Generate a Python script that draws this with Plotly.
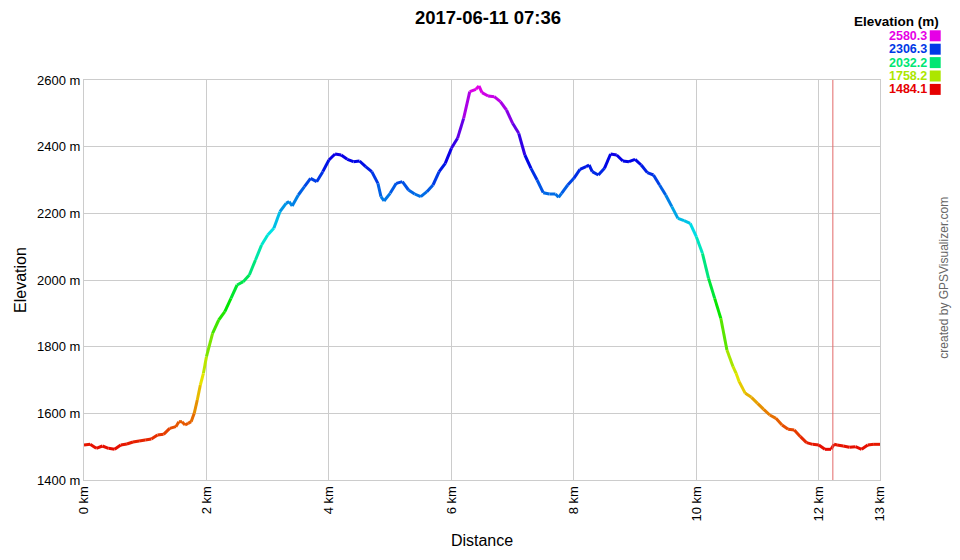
"""GPS track elevation profile, coloured by elevation."""
import plotly.graph_objects as go
from plotly.colors import sample_colorscale

# ── Data read from the profile ───────────────────────────────────────────────
distance_km = [
    0.0, 0.1, 0.2, 0.3, 0.4, 0.5, 0.6, 0.7, 0.8, 0.9,
    1.0, 1.1, 1.2, 1.3, 1.4, 1.5, 1.55, 1.6, 1.65, 1.7, 1.75, 1.8, 1.85, 1.9, 1.95,
    2.0, 2.1, 2.2, 2.3, 2.4, 2.5, 2.6, 2.7, 2.8, 2.9,
    3.0, 3.1, 3.2, 3.3, 3.35, 3.4, 3.5, 3.6, 3.7, 3.8, 3.9,
    4.0, 4.1, 4.2, 4.3, 4.4, 4.5, 4.6, 4.7, 4.8, 4.85, 4.9,
    5.0, 5.1, 5.2, 5.3, 5.4, 5.5, 5.6, 5.7, 5.8, 5.9,
    6.0, 6.1, 6.2, 6.3, 6.4, 6.45, 6.5, 6.6, 6.7, 6.8, 6.9,
    7.0, 7.1, 7.2, 7.3, 7.4, 7.5, 7.6, 7.7, 7.75, 7.8, 7.9,
    8.0, 8.1, 8.2, 8.25, 8.3, 8.4, 8.5, 8.6, 8.7, 8.8, 8.9,
    9.0, 9.1, 9.2, 9.3, 9.4, 9.5, 9.6, 9.7, 9.8, 9.9,
    10.0, 10.1, 10.2, 10.3, 10.4, 10.5, 10.6, 10.65, 10.7, 10.8, 10.9,
    11.0, 11.1, 11.2, 11.3, 11.4, 11.5, 11.6, 11.7, 11.8, 11.9,
    12.0, 12.1, 12.2, 12.25, 12.3, 12.4, 12.5, 12.6, 12.7, 12.8, 12.9, 13.0,
]
elevation_m = [
    1505, 1507, 1495, 1502, 1495, 1492, 1505, 1508, 1514, 1517,
    1520, 1523, 1535, 1537, 1555, 1560, 1575, 1575, 1565, 1570, 1575, 1600, 1640, 1685, 1720,
    1770, 1840, 1880, 1905, 1945, 1985, 1995, 2015, 2060, 2105,
    2135, 2155, 2205, 2230, 2235, 2222, 2255, 2280, 2305, 2295, 2325,
    2360, 2378, 2375, 2362, 2355, 2357, 2340, 2325, 2290, 2250, 2237,
    2260, 2290, 2295, 2270, 2258, 2250, 2265, 2285, 2325, 2350,
    2395, 2425, 2485, 2565, 2572, 2582, 2562, 2552, 2550, 2535, 2510,
    2470, 2440, 2375, 2335, 2300, 2262, 2258, 2258, 2248, 2260, 2285,
    2305, 2332, 2340, 2345, 2325, 2315, 2335, 2378, 2375, 2357, 2355,
    2362, 2345, 2322, 2315, 2285, 2255, 2220, 2185, 2178, 2170,
    2130, 2080, 2005, 1945, 1885, 1790, 1740, 1720, 1695, 1660, 1648,
    1630, 1612, 1595, 1585, 1565, 1552, 1550, 1530, 1512, 1507,
    1505, 1492, 1492, 1507, 1505, 1502, 1498, 1500, 1492, 1505, 1507, 1507,
]

legend_values = [2580.3, 2306.3, 2032.2, 1758.2, 1484.1]
x_tickvals = [0, 2, 4, 6, 8, 10, 12, 13]
y_tickvals = [1400, 1600, 1800, 2000, 2200, 2400, 2600]
marker_km = 12.23

# hue wheel red -> yellow -> green -> cyan -> blue -> magenta
COLORSCALE = [
    [0.0, "rgb(230,0,0)"], [0.2, "rgb(230,230,0)"], [0.4, "rgb(0,230,0)"],
    [0.6, "rgb(0,230,230)"], [0.8, "rgb(0,0,230)"], [1.0, "rgb(230,0,230)"],
]
E_MIN, E_MAX = min(legend_values), max(legend_values)
FONT = "Arial, Liberation Sans, sans-serif"


def elev_color(e):
    t = min(max((e - E_MIN) / (E_MAX - E_MIN), 0), 1)
    return sample_colorscale(COLORSCALE, [t])[0]


def px_to_paper(px, py):
    # plot area spans x 80..880, y 80..480 on the page
    return (px - 80) / 800, (480 - py) / 400


fig = go.Figure()

# vertical marker
fig.add_shape(type="line", x0=marker_km, x1=marker_km, y0=1400, y1=2600,
              xref="x", yref="y", line=dict(color="#e26868", width=1))

# elevation line, one segment per pair of points so each gets its own colour
for i in range(len(distance_km) - 1):
    mid = (elevation_m[i] + elevation_m[i + 1]) / 2
    fig.add_trace(go.Scatter(
        x=distance_km[i:i + 2], y=elevation_m[i:i + 2], mode="lines",
        line=dict(color=elev_color(mid), width=3),
        showlegend=False, hoverinfo="skip",
    ))

# ── Legend block (top right) ─────────────────────────────────────────────────
lx, ly = px_to_paper(941, 21)
fig.add_annotation(x=lx, y=ly, xref="paper", yref="paper", xanchor="right",
                   yanchor="middle", showarrow=False, text="<b>Elevation (m)</b>",
                   font=dict(family=FONT, size=13.5, color="black"))
for k, val in enumerate(legend_values):
    cy = 35.8 + k * 13.4
    c = elev_color(val)
    tx, ty = px_to_paper(928, cy)
    fig.add_annotation(x=tx, y=ty, xref="paper", yref="paper", xanchor="right",
                       yanchor="middle", showarrow=False, text=f"<b>{val:.1f}</b>",
                       font=dict(family=FONT, size=12.5, color=c), borderpad=0)
    x0, y0 = px_to_paper(930, cy + 5.5)
    x1, y1 = px_to_paper(941, cy - 5.5)
    fig.add_shape(type="rect", xref="paper", yref="paper", x0=x0, x1=x1,
                  y0=y0, y1=y1, fillcolor=c, line=dict(width=0))

cx, cy2 = px_to_paper(953, 278)
fig.add_annotation(x=cx, y=cy2, xref="paper", yref="paper", textangle=-90,
                   showarrow=False, text="created by GPSVisualizer.com",
                   font=dict(family=FONT, size=12, color="#666666"))

# the page body adds an 8px offset, so margins are shifted to keep the plot at 80..880
fig.update_layout(
    width=960, height=560,
    margin=dict(l=72, r=88, t=72, b=88),
    paper_bgcolor="white", plot_bgcolor="white",
    font=dict(family=FONT, size=13, color="black"),
    title=dict(text="<b>2017-06-11 07:36</b>", x=0.5, xanchor="center",
               y=1 - 10 / 560, yanchor="middle", font=dict(size=18.5)),
    xaxis=dict(
        range=[0, 13], tickvals=x_tickvals, ticktext=[f"{v} km" for v in x_tickvals],
        tickangle=-90, showgrid=True, gridcolor="#cccccc", gridwidth=1,
        showline=True, linecolor="#cccccc", mirror=True, zeroline=False,
        ticks="", title=dict(text="Distance", font=dict(size=16), standoff=14),
    ),
    yaxis=dict(
        range=[1400, 2600], tickvals=y_tickvals,
        ticktext=[f"{v} m" for v in y_tickvals],
        showgrid=True, gridcolor="#cccccc", gridwidth=1,
        showline=True, linecolor="#cccccc", mirror=True, zeroline=False,
        ticks="", title=dict(text="Elevation", font=dict(size=16), standoff=6),
    ),
)

fig.write_html("out.html")
